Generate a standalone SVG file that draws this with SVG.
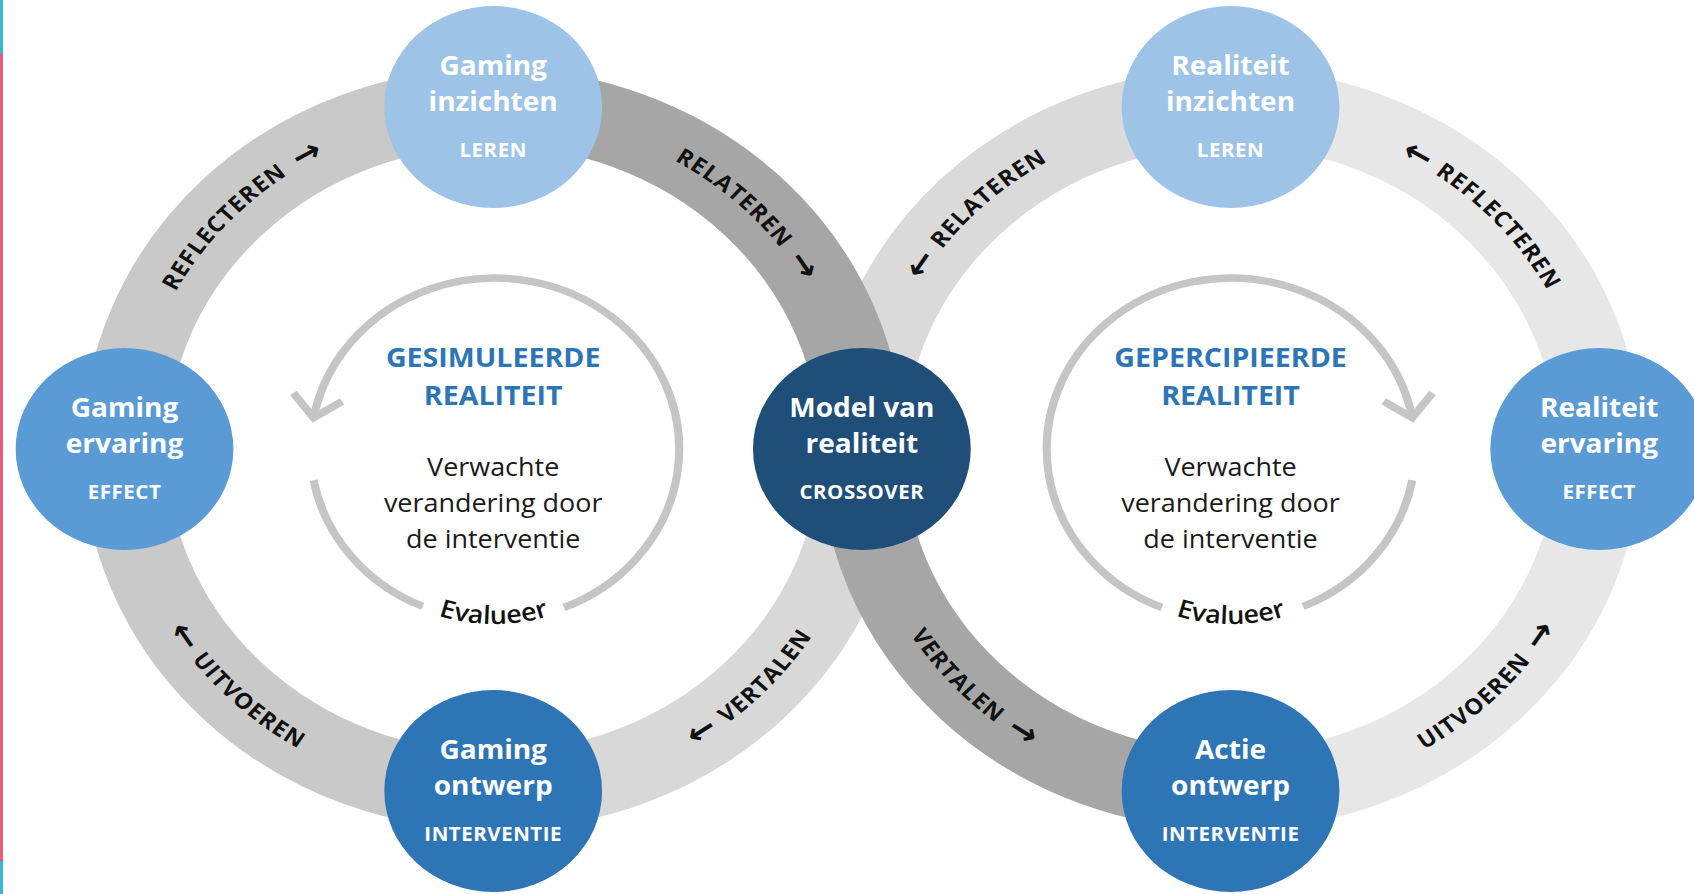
<svg xmlns="http://www.w3.org/2000/svg" xmlns:xlink="http://www.w3.org/1999/xlink" width="1694" height="894" viewBox="0 0 1694 894">
  <style>
    .band { fill: none; stroke-width: 78; }
    .inner { fill: none; stroke: #c5c5c5; stroke-width: 7.5; }
    .node-title { font-family: "Open Sans", "Liberation Sans", sans-serif; font-weight: 700; font-size: 26px; fill: #ffffff; text-anchor: middle; }
    .node-sub { font-family: "Open Sans", "Liberation Sans", sans-serif; font-weight: 700; font-size: 19px; fill: #ffffff; text-anchor: middle; letter-spacing: 0.5px; }
    .head { font-family: "Open Sans", "Liberation Sans", sans-serif; font-weight: 700; font-size: 26.5px; fill: #2e75b6; text-anchor: middle; }
    .body { font-family: "Open Sans", "Liberation Sans", sans-serif; font-weight: 400; font-size: 25px; fill: #1a1a1a; text-anchor: middle; }
    .eval { font-family: "Open Sans", "Liberation Sans", sans-serif; font-weight: 600; font-size: 25px; fill: #111111; }
    .lbl { font-family: "Open Sans", "Liberation Sans", sans-serif; font-weight: 700; font-size: 22px; fill: #111111; letter-spacing: 1px; }
    .arr { font-family: "DejaVu Sans", sans-serif; font-weight: 700; font-size: 32px; letter-spacing: 0; }
  </style>
  <defs>
    <marker id="chev" markerUnits="userSpaceOnUse" orient="auto" viewBox="-40 -40 80 80" markerWidth="80" markerHeight="80" refX="0" refY="0" overflow="visible">
      <path d="M -21 -23 L 0 0 L -21 23" fill="none" stroke="#c5c5c5" stroke-width="7.5"/>
    </marker>
    <path id="pLTL" d="M 134.9 535.4 A 334 334 0 0 1 543.9 126.4"/>
    <path id="pLTR" d="M 371.1 126.4 A 334 334 0 0 1 780.1 535.4"/>
    <path id="pLBR" d="M 366.9 787.1 A 350 350 0 0 0 795.6 358.4"/>
    <path id="pLBL" d="M 119.4 358.4 A 350 350 0 0 0 548.1 787.1"/>
    <path id="pRTL" d="M 818.9 535.4 A 334 334 0 0 1 1227.9 126.4"/>
    <path id="pRTR" d="M 1055.1 126.4 A 334 334 0 0 1 1464.1 535.4"/>
    <path id="pRBR" d="M 1050.9 787.1 A 350 350 0 0 0 1479.6 358.4"/>
    <path id="pRBL" d="M 803.4 358.4 A 350 350 0 0 0 1232.1 787.1"/>
    <path id="pEvL" d="M 312.5 540 A 168 168 0 0 0 603.5 540"/>
    <path id="pEvR" d="M 996.5 540 A 168 168 0 0 0 1287.5 540"/>
  </defs>

  <rect x="0" y="0" width="1694" height="894" fill="#ffffff"/>
  <rect x="0" y="0" width="3" height="54" fill="#35b8d5"/>
  <rect x="0" y="54" width="3" height="807" fill="#e85c7a"/>
  <rect x="0" y="861" width="3" height="33" fill="#35b8d5"/>

  <g transform="scale(1.078,1)">
    <g id="connectors">
      <path class="band" stroke="#c9c9c9" d="M 115.5 449 A 342 342 0 0 1 457.5 107"/>
      <path class="band" stroke="#d8d8d8" d="M 799.5 449 A 342 342 0 0 1 457.5 791"/>
      <path class="band" stroke="#c9c9c9" d="M 457.5 791 A 342 342 0 0 1 115.5 449"/>
      <path class="band" stroke="#dadada" d="M 799.5 449 A 342 342 0 0 1 1141.5 107"/>
      <path class="band" stroke="#e7e7e7" d="M 1141.5 107 A 342 342 0 0 1 1483.5 449"/>
      <path class="band" stroke="#e7e7e7" d="M 1483.5 449 A 342 342 0 0 1 1141.5 791"/>
      <path class="band" stroke="#a6a6a6" d="M 457.5 107 A 342 342 0 0 1 799.5 449"/>
      <path class="band" stroke="#a6a6a6" d="M 1141.5 791 A 342 342 0 0 1 799.5 449"/>

      <text class="lbl"><textPath xlink:href="#pLTL" href="#pLTL" startOffset="50%" text-anchor="middle">REFLECTEREN<tspan class="arr" dx="12" dy="2">→</tspan></textPath></text>
      <text class="lbl"><textPath xlink:href="#pLTR" href="#pLTR" startOffset="50%" text-anchor="middle">RELATEREN<tspan class="arr" dx="12" dy="2">→</tspan></textPath></text>
      <text class="lbl"><textPath xlink:href="#pLBR" href="#pLBR" startOffset="50%" text-anchor="middle"><tspan class="arr" dy="2">←</tspan><tspan dx="10" dy="-2">VERTALEN</tspan></textPath></text>
      <text class="lbl"><textPath xlink:href="#pLBL" href="#pLBL" startOffset="50%" text-anchor="middle"><tspan class="arr" dy="2">←</tspan><tspan dx="10" dy="-2">UITVOEREN</tspan></textPath></text>

      <text class="lbl"><textPath xlink:href="#pRTL" href="#pRTL" startOffset="50%" text-anchor="middle"><tspan class="arr" dy="2">←</tspan><tspan dx="10" dy="-2">RELATEREN</tspan></textPath></text>
      <text class="lbl"><textPath xlink:href="#pRTR" href="#pRTR" startOffset="50%" text-anchor="middle"><tspan class="arr" dy="2">←</tspan><tspan dx="10" dy="-2">REFLECTEREN</tspan></textPath></text>
      <text class="lbl"><textPath xlink:href="#pRBL" href="#pRBL" startOffset="50%" text-anchor="middle">VERTALEN<tspan class="arr" dx="12" dy="2">→</tspan></textPath></text>
      <text class="lbl"><textPath xlink:href="#pRBR" href="#pRBR" startOffset="50%" text-anchor="middle">UITVOEREN<tspan class="arr" dx="12" dy="2">→</tspan></textPath></text>
    </g>

    <g id="cycle-gesimuleerd">
      <path class="inner" d="M 523.1 607.6 A 171 171 0 1 0 290.9 417.8" marker-end="url(#chev)"/>
      <path class="inner" d="M 290.9 480.2 A 171 171 0 0 0 392.2 606.4"/>
      <text class="head" x="457.5" y="367">GESIMULEERDE</text>
      <text class="head" x="457.5" y="405">REALITEIT</text>
      <text class="body" x="457.5" y="476">Verwachte</text>
      <text class="body" x="457.5" y="512">verandering door</text>
      <text class="body" x="457.5" y="548">de interventie</text>
      <text class="eval"><textPath xlink:href="#pEvL" href="#pEvL" startOffset="50%" text-anchor="middle">Evalueer</textPath></text>
    </g>

    <g id="cycle-gepercipieerd">
      <path class="inner" d="M 1077.9 607.6 A 171 171 0 1 1 1310.1 417.8" marker-end="url(#chev)"/>
      <path class="inner" d="M 1310.1 480.2 A 171 171 0 0 1 1208.8 606.4"/>
      <text class="head" x="1141.5" y="367">GEPERCIPIEERDE</text>
      <text class="head" x="1141.5" y="405">REALITEIT</text>
      <text class="body" x="1141.5" y="476">Verwachte</text>
      <text class="body" x="1141.5" y="512">verandering door</text>
      <text class="body" x="1141.5" y="548">de interventie</text>
      <text class="eval"><textPath xlink:href="#pEvR" href="#pEvR" startOffset="50%" text-anchor="middle">Evalueer</textPath></text>
    </g>

    <g id="gaming-inzichten">
      <circle cx="457.5" cy="107" r="101" fill="#9dc3e6"/>
      <text class="node-title" x="457.5" y="75">Gaming</text>
      <text class="node-title" x="457.5" y="111">inzichten</text>
      <text class="node-sub" x="457.5" y="157">LEREN</text>
    </g>
    <g id="gaming-ervaring">
      <circle cx="115.5" cy="449" r="101" fill="#5b9bd5"/>
      <text class="node-title" x="115.5" y="417">Gaming</text>
      <text class="node-title" x="115.5" y="453">ervaring</text>
      <text class="node-sub" x="115.5" y="499">EFFECT</text>
    </g>
    <g id="gaming-ontwerp">
      <circle cx="457.5" cy="791" r="101" fill="#2e75b6"/>
      <text class="node-title" x="457.5" y="759">Gaming</text>
      <text class="node-title" x="457.5" y="795">ontwerp</text>
      <text class="node-sub" x="457.5" y="841">INTERVENTIE</text>
    </g>
    <g id="model-van-realiteit">
      <circle cx="799.5" cy="449" r="101" fill="#1f4e79"/>
      <text class="node-title" x="799.5" y="417">Model van</text>
      <text class="node-title" x="799.5" y="453">realiteit</text>
      <text class="node-sub" x="799.5" y="499">CROSSOVER</text>
    </g>
    <g id="realiteit-inzichten">
      <circle cx="1141.5" cy="107" r="101" fill="#9dc3e6"/>
      <text class="node-title" x="1141.5" y="75">Realiteit</text>
      <text class="node-title" x="1141.5" y="111">inzichten</text>
      <text class="node-sub" x="1141.5" y="157">LEREN</text>
    </g>
    <g id="realiteit-ervaring">
      <circle cx="1483.5" cy="449" r="101" fill="#5b9bd5"/>
      <text class="node-title" x="1483.5" y="417">Realiteit</text>
      <text class="node-title" x="1483.5" y="453">ervaring</text>
      <text class="node-sub" x="1483.5" y="499">EFFECT</text>
    </g>
    <g id="actie-ontwerp">
      <circle cx="1141.5" cy="791" r="101" fill="#2e75b6"/>
      <text class="node-title" x="1141.5" y="759">Actie</text>
      <text class="node-title" x="1141.5" y="795">ontwerp</text>
      <text class="node-sub" x="1141.5" y="841">INTERVENTIE</text>
    </g>
  </g>
</svg>
